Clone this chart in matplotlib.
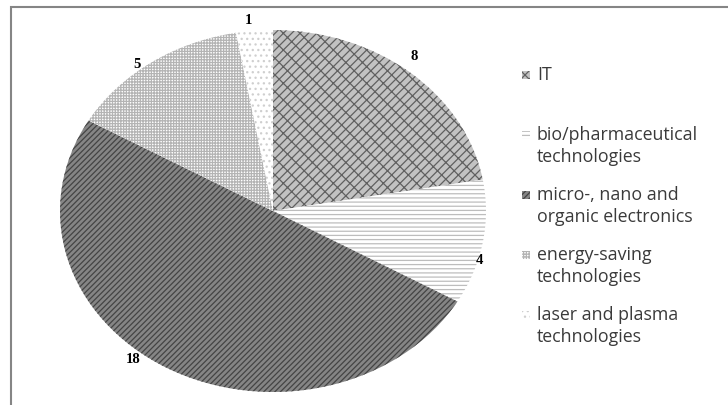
import matplotlib
matplotlib.use('Agg')
import matplotlib.pyplot as plt
from matplotlib.patches import Rectangle

# data
categories = ['IT', 'bio/pharmaceutical\ntechnologies', 'micro-, nano and\norganic electronics',
              'energy-saving\ntechnologies', 'laser and plasma\ntechnologies']
values = [8, 4, 18, 5, 1]

# styles: face colour, hatch, hatch colour
faces = ['#c2c2c2', 'white', '#858585', 'white', 'white']
hatches = ['////\\\\', '----', '//////', '++++++', '...']
hatch_cols = ['#606060', '#bdbdbd', '#444444', '#b4b4b4', '#cfcfcf']

# label positions (ellipse-normalised coords)
label_xy = [(0.662, 0.851), (0.967, -0.276), (-0.657, -0.823), (-0.638, 0.807), (-0.113, 1.05)]

plt.rcParams['hatch.linewidth'] = 0.9

W, H = 728, 405
fig = plt.figure(figsize=(W / 100, H / 100), dpi=100)

# outer chart frame (cut off at right and bottom)
frame = Rectangle((11 / W, -0.1), 1.2, (H - 6.5) / H + 0.1, transform=fig.transFigure,
                  facecolor='none', edgecolor='#858585', linewidth=1.5)
fig.add_artist(frame)

# pie axes, stretched into an ellipse
ax = fig.add_axes([60 / W, 13 / H, 426 / W, 362 / H])
wedges, _ = ax.pie(values, startangle=90, counterclock=False, radius=1)
for w, fc, h, hc in zip(wedges, faces, hatches, hatch_cols):
    w.set_facecolor(fc)
    w.set_hatch(h)
    w.set_edgecolor(hc)
    w.set_linewidth(0)
ax.set_aspect('auto')
ax.set_xlim(-1, 1)
ax.set_ylim(-1, 1)
ax.axis('off')

for v, (x, y) in zip(values, label_xy):
    ax.text(x, y, str(v), ha='center', va='center', fontsize=10.5, fontweight='bold',
            family='Liberation Serif', color='black')

# legend drawn by hand: marker beside the first line of each entry
for i, (lab, fc, h, hc) in enumerate(zip(categories, faces, hatches, hatch_cols)):
    yc = 75 + 60 * i
    mk = Rectangle((522 / W, (H - yc - 4) / H), 8 / W, 8 / H, transform=fig.transFigure,
                   facecolor=fc, hatch=h, edgecolor=hc, linewidth=0)
    fig.add_artist(mk)
    for j, line in enumerate(lab.split('\n')):
        fig.text(537 / W, (H - yc - 22 * j) / H, line, ha='left', va='center',
                 fontsize=12.8, family='Open Sans', color='#3a3a3a')

plt.savefig('out.png', dpi=100, facecolor='white')
